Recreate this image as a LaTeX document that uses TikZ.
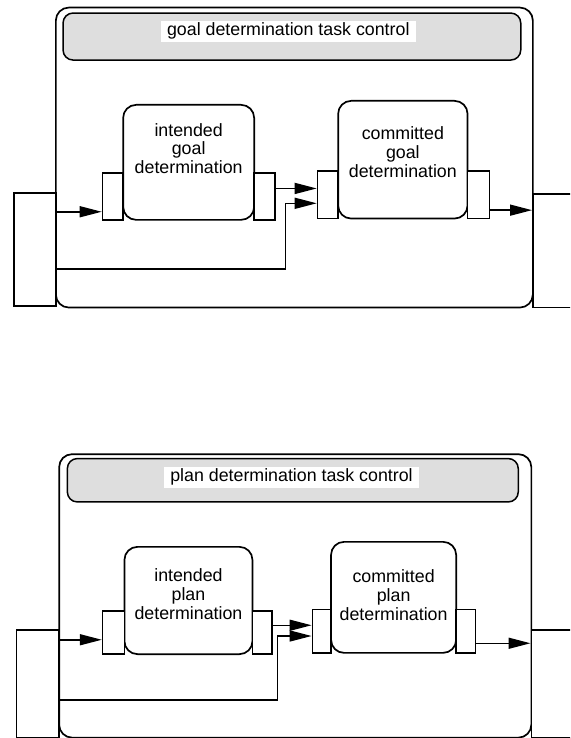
\documentclass[tikz,border=0pt]{standalone}
\usepackage{fontspec}
\setmainfont{Liberation Sans}
\usetikzlibrary{positioning,arrows.meta}

\begin{document}
\begin{tikzpicture}[
  x=1pt, y=-1pt,
  dims/.style 2 args={minimum width=#1, minimum height=#2},
  frame/.style={rectangle, draw=black, line width=1.7pt, rounded corners=13pt,
                anchor=north west, inner sep=0pt},
  iobox/.style={rectangle, draw=black, line width=1.6pt, fill=white,
                anchor=north west, inner sep=0pt},
  ctrlbar/.style={rectangle, draw=black, line width=1.5pt, fill=black!13,
                  rounded corners=10pt, anchor=north west, inner sep=0pt},
  ctrltitle/.style={fill=white, inner xsep=6.5pt, inner ysep=2pt,
                    text height=13pt, text depth=4pt},
  process/.style={rectangle, draw=black, line width=1.7pt, fill=white,
                  rounded corners=13pt, anchor=north west, inner sep=0pt},
  port/.style={rectangle, draw=black, line width=1.6pt, fill=white,
               anchor=north west, inner sep=0pt},
  proctext/.style={align=center, inner sep=0pt},
  flow/.style={draw, line width=1.5pt, -{Triangle[length=22pt, width=11pt]}},
  every node/.style={font=\fontsize{17.8}{18.8}\selectfont}
]
\useasboundingbox (0,0) rectangle (570,738);
\clip (0,0) rectangle (570,738);

% ==========================================================
% Goal determination
% ==========================================================
\node[frame, dims={477pt}{300pt}] (gFrame) at (55,6.7) {};
\node[iobox, dims={41.7pt}{113pt}] (gIn) at (13.3,192.3) {};
\node[iobox, dims={60pt}{113.4pt}] (gOut) at (532,193.3) {};
\node[ctrlbar, dims={457.7pt}{47pt}] (gBar) at (62.3,12.3) {};
\node[ctrltitle] (gTitle) at (288.3,31.2) {goal determination task control};

\node[process, dims={131pt}{115pt}] (gInt) at (122.3,104) {};
\node[port, dims={20.6pt}{46.7pt}] (gIntIn) at (101.7,172.3) {};
\node[port, dims={20.7pt}{46.7pt}] (gIntOut) at (253.3,172.3) {};
\node[proctext, below=19pt of gInt.north] (gIntText) {intended\\goal\\determination};

\node[process, dims={129.4pt}{117.7pt}] (gCom) at (337.3,100) {};
\node[port, dims={20.6pt}{47.7pt}] (gComIn) at (316.7,170) {};
\node[port, dims={22pt}{47.7pt}] (gComOut) at (466.7,170) {};
\node[proctext, below=26.5pt of gCom.north] (gComText) {committed\\goal\\determination};

\coordinate (gBend) at (285.7,203.3);

\draw[flow] ([yshift=-15.3pt]gIntIn.west -| gIn.east) -- ([yshift=-15.3pt]gIntIn.west);
\draw[flow] ([yshift=8pt]gIntOut.east) -- ([yshift=8pt]gIntOut.east -| gComIn.west);
\draw[flow] ([yshift=-19.5pt]gIn.east) -| (gBend) -- (gBend -| gComIn.west);
\draw[flow] ([yshift=-15.5pt]gComOut.east) -- ([yshift=-15.5pt]gComOut.east -| gOut.west);

% ==========================================================
% Plan determination
% ==========================================================
\node[frame, dims={472.2pt}{283.5pt}] (pFrame) at (58.3,453.3) {};
\node[iobox, dims={42.6pt}{107.7pt}] (pIn) at (15.7,629) {};
\node[iobox, dims={60pt}{108pt}] (pOut) at (530.5,629.3) {};
\node[ctrlbar, dims={450.9pt}{43.4pt}] (pBar) at (66.6,457.8) {};
\node[ctrltitle] (pTitle) at (291.5,477.2) {plan determination task control};

\node[process, dims={128pt}{107.3pt}] (pInt) at (123.6,546) {};
\node[port, dims={21.8pt}{43.3pt}] (pIntIn) at (101.8,610) {};
\node[port, dims={19.4pt}{43.3pt}] (pIntOut) at (251.6,610) {};
\node[proctext, below=22.4pt of pInt.north] (pIntText) {intended\\plan\\determination};

\node[process, dims={125.1pt}{111pt}] (pCom) at (330.2,541) {};
\node[port, dims={18.6pt}{43.3pt}] (pComIn) at (311.6,608.7) {};
\node[port, dims={19.5pt}{43.3pt}] (pComOut) at (455.3,608.7) {};
\node[proctext, below=28.4pt of pCom.north] (pComText) {committed\\plan\\determination};

\coordinate (pBend) at (277.3,636);

\draw[flow] ([yshift=-7.3pt]pIntIn.west -| pIn.east) -- ([yshift=-7.3pt]pIntIn.west);
\draw[flow] ([yshift=7.2pt]pIntOut.east) -- ([yshift=7.2pt]pIntOut.east -| pComIn.west);
\draw[flow] ([yshift=-16.4pt]pIn.east) -| (pBend) -- (pBend -| pComIn.west);
\draw[flow] ([yshift=-12.1pt]pComOut.east) -- ([yshift=-12.1pt]pComOut.east -| pOut.west);

\end{tikzpicture}
\end{document}
